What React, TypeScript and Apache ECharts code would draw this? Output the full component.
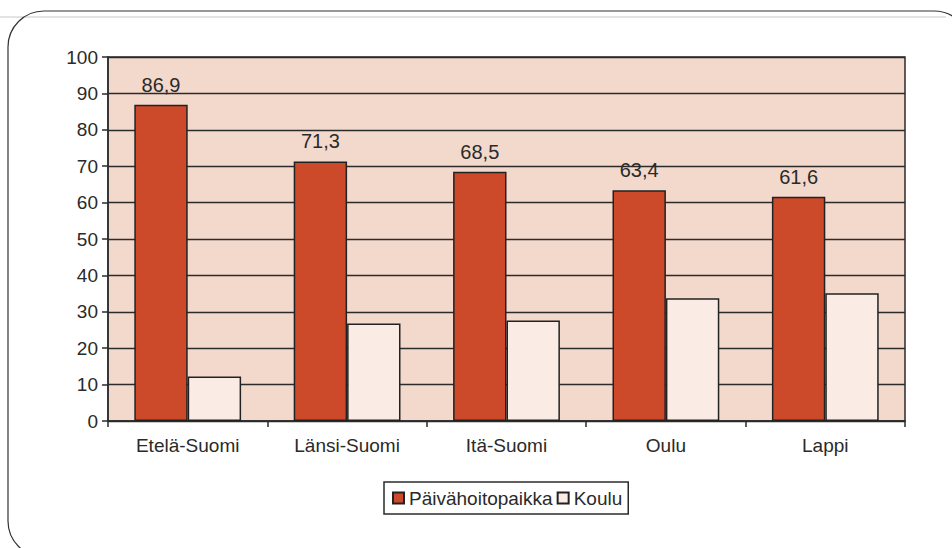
import React, { useEffect, useRef } from "react";
import * as echarts from "echarts";

const categories = ["Etelä-Suomi", "Länsi-Suomi", "Itä-Suomi", "Oulu", "Lappi"];
const paivahoitopaikka = [86.9, 71.3, 68.5, 63.4, 61.6];
const koulu = [12.2, 26.8, 27.6, 33.7, 35.1];
const seriesNames = ["Päivähoitopaikka", "Koulu"];

const FONT = "'Liberation Sans', Arial, Helvetica, sans-serif";
const TEXT = "#2a2a2a";
const DARK = "#2b2b2b";

export default function App() {
  const ref = useRef<HTMLDivElement>(null);

  useEffect(() => {
    if (!ref.current) return;
    const chart = echarts.init(ref.current, undefined, { renderer: "svg" });
    chart.setOption({
      animation: false,
      backgroundColor: "#ffffff",
      textStyle: { fontFamily: FONT, color: TEXT },
      graphic: [
        {
          type: "line",
          shape: { x1: 0, y1: 17, x2: 946, y2: 17 },
          style: { stroke: "#c8c8c8", lineWidth: 1 },
          z: 0,
        },
        {
          type: "rect",
          shape: { x: 8, y: 11, width: 962, height: 546, r: 36 },
          style: { fill: "none", stroke: "#333", lineWidth: 1.2 },
          z: 1,
        },
      ],
      grid: {
        left: 108,
        right: 47,
        top: 57,
        bottom: 127,
        show: true,
        backgroundColor: "#f3d9cc",
        borderColor: DARK,
        borderWidth: 1.5,
      },
      legend: {
        data: seriesNames,
        top: 482,
        left: 384,
        itemWidth: 11,
        itemHeight: 11,
        itemGap: 4,
        icon: "rect",
        padding: [6, 6, 6, 8],
        borderColor: DARK,
        borderWidth: 1.5,
        backgroundColor: "#ffffff",
        textStyle: { fontFamily: FONT, fontSize: 19, color: TEXT, lineHeight: 20 },
      },
      xAxis: {
        type: "category",
        data: categories,
        axisLine: { show: true, lineStyle: { color: DARK, width: 1.5 } },
        axisTick: { show: true, length: 6, lineStyle: { color: DARK, width: 1.5 } },
        axisLabel: { fontFamily: FONT, fontSize: 19, color: TEXT, margin: 15 },
        splitLine: { show: false },
      },
      yAxis: {
        type: "value",
        min: 0,
        max: 100,
        interval: 10,
        axisLine: { show: true, lineStyle: { color: DARK, width: 1.5 } },
        axisTick: { show: true, length: 6, lineStyle: { color: DARK, width: 1.5 } },
        axisLabel: { fontFamily: FONT, fontSize: 19, color: TEXT, margin: 10 },
        splitLine: { show: true, lineStyle: { color: DARK, width: 1.3 } },
      },
      series: [
        {
          name: seriesNames[0],
          type: "bar",
          data: paivahoitopaikka,
          barGap: "0%",
          barCategoryGap: "33%",
          itemStyle: { color: "#cc4a2a", borderColor: "#222", borderWidth: 1.5 },
          label: {
            show: true,
            position: "top",
            distance: 10,
            fontFamily: FONT,
            fontSize: 20,
            color: TEXT,
            formatter: (p: any) => Number(p.value).toFixed(1).replace(".", ","),
          },
        },
        {
          name: seriesNames[1],
          type: "bar",
          data: koulu,
          barGap: "0%",
          barCategoryGap: "33%",
          itemStyle: { color: "#faece4", borderColor: "#222", borderWidth: 1.5 },
        },
      ],
    });
    return () => chart.dispose();
  }, []);

  return (
    <div
      ref={ref}
      style={{ position: "absolute", left: 0, top: 0, width: 952, height: 548 }}
    />
  );
}
